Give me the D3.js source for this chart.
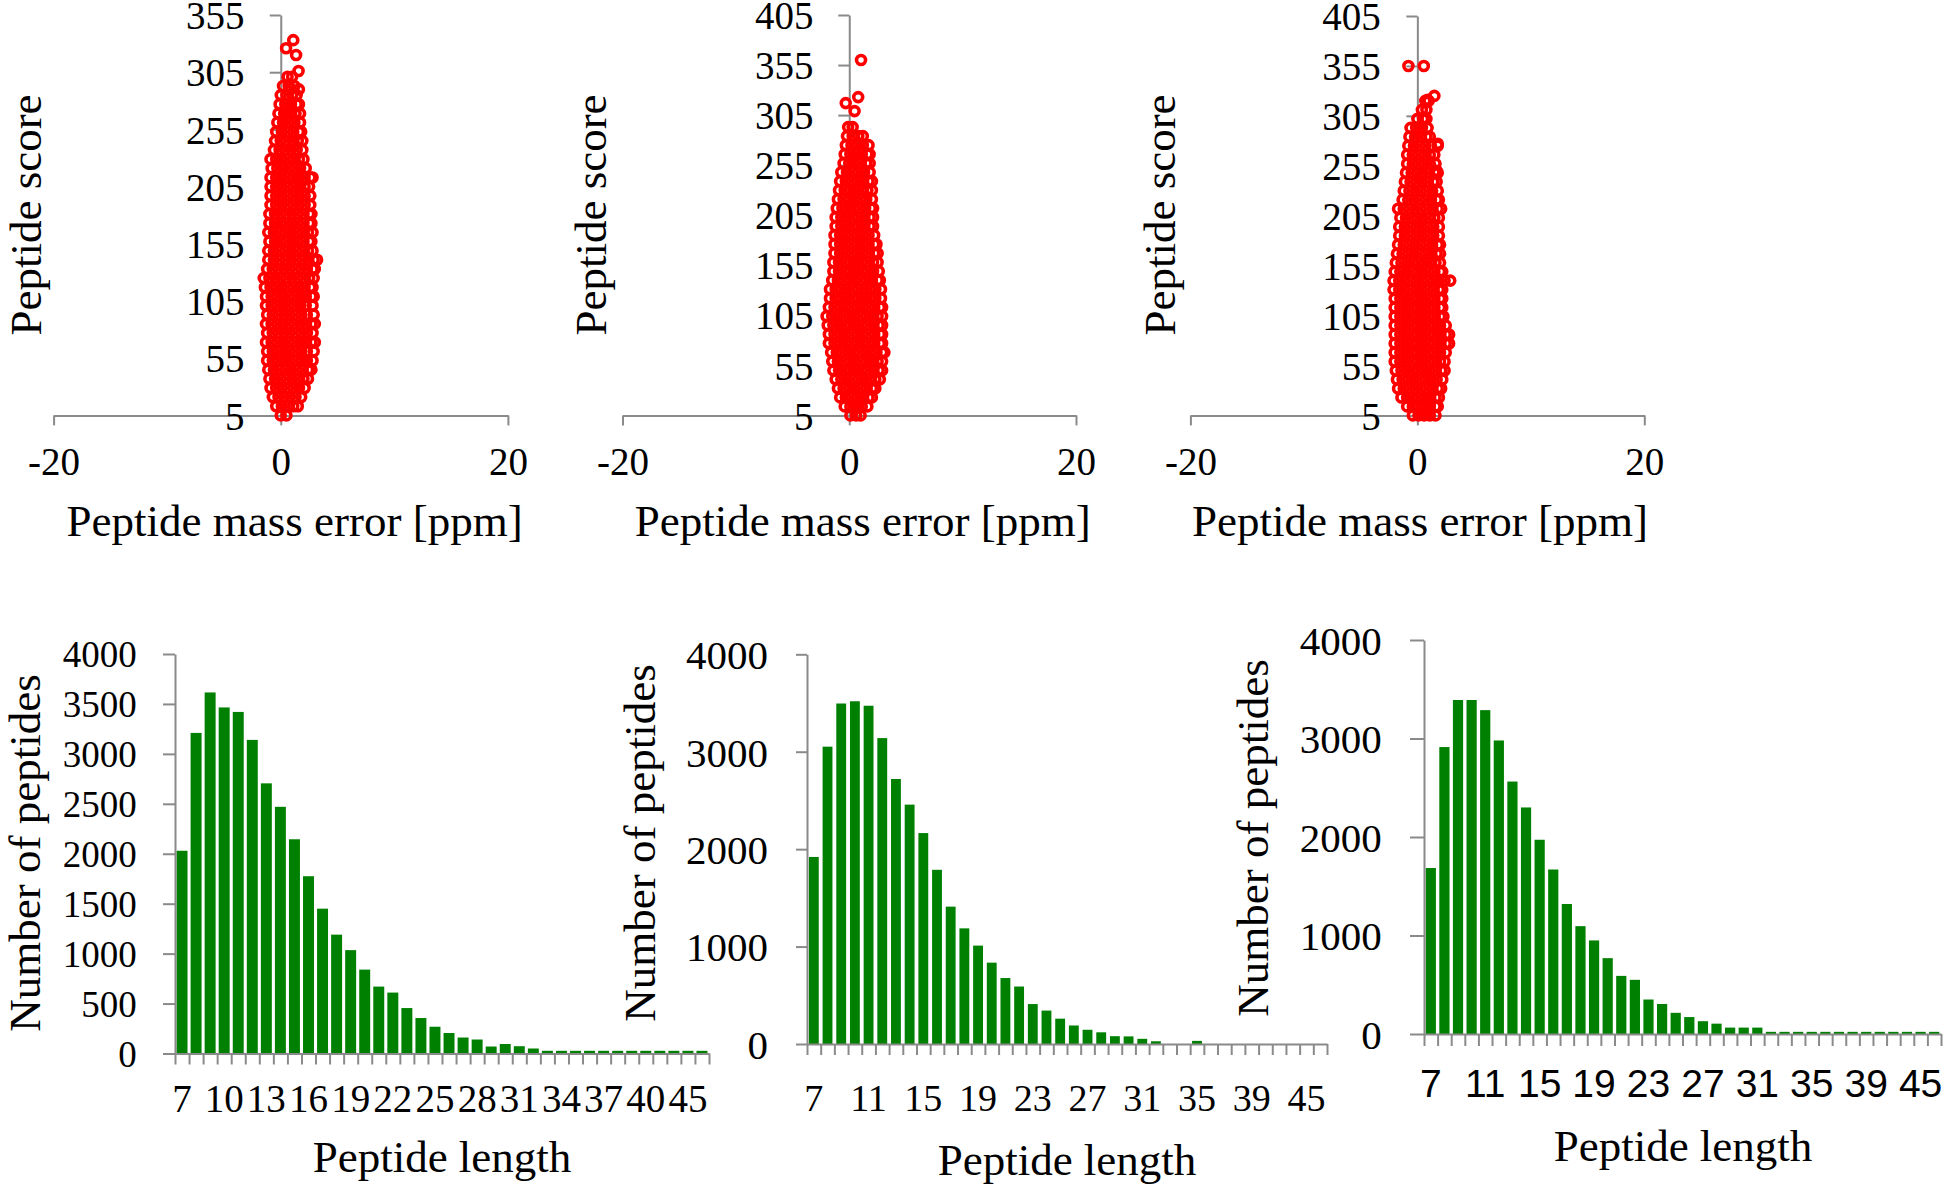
<!DOCTYPE html>
<html><head><meta charset="utf-8">
<script src="https://cdn.jsdelivr.net/npm/d3@7"></script>
<style>body{margin:0;background:#fff}svg{display:block}</style>
</head><body>
<svg id="c" width="1946" height="1189"></svg>
<script>
// ---------------- DATA ----------------
const xTickLabels = [-20, 0, 20];
const yTicksScore1 = [5, 55, 105, 155, 205, 255, 305, 355];
const yTicksScore2 = [5, 55, 105, 155, 205, 255, 305, 355, 405];

const scatter1Scores = [5,13,21,29,37,45,53,61,69,77,85,93,101,109,117,125,133,141,149,157,165,173,181,189,197,205,213,221,229,237,245,253,261,269,277,285,293,301];
const scatter1Errors = [
[0.0,0.5],
[-0.4,0.1,0.6,1.1,1.5],
[-0.7,-0.2,0.3,0.8,1.3,1.8],
[-0.9,-0.4,0.1,0.6,1.1,1.6,2.1],
[-1.0,-0.5,0.0,0.5,1.0,1.5,2.0,2.4],
[-1.1,-0.6,-0.1,0.4,0.9,1.4,1.9,2.4,2.7],
[-1.2,-0.7,-0.2,0.3,0.8,1.3,1.8,2.3,2.8],
[-1.2,-0.7,-0.2,0.3,0.8,1.3,1.8,2.3,2.9],
[-1.3,-0.8,-0.3,0.2,0.7,1.2,1.7,2.2,2.7,3.0],
[-1.2,-0.7,-0.2,0.3,0.8,1.3,1.8,2.3,2.8],
[-1.3,-0.8,-0.3,0.2,0.7,1.2,1.7,2.2,2.7,3.0],
[-1.2,-0.7,-0.2,0.3,0.8,1.3,1.8,2.3,2.9],
[-1.3,-0.8,-0.3,0.2,0.7,1.2,1.7,2.2,2.8],
[-1.3,-0.8,-0.3,0.2,0.7,1.2,1.7,2.2,2.7,2.9],
[-1.4,-0.9,-0.4,0.1,0.6,1.1,1.6,2.1,2.6,2.8],
[-1.5,-1.0,-0.5,0.0,0.5,1.0,1.5,2.0,2.5,2.9],
[-1.2,-0.7,-0.2,0.3,0.8,1.3,1.8,2.3,2.8,3.0],
[-1.1,-0.6,-0.1,0.4,0.9,1.4,1.9,2.4,2.9,3.2],
[-1.1,-0.6,-0.1,0.4,0.9,1.4,1.9,2.4,2.8],
[-1.0,-0.5,0.0,0.5,1.0,1.5,2.0,2.5,2.7],
[-1.1,-0.6,-0.1,0.4,0.9,1.4,1.9,2.4,2.8],
[-1.0,-0.5,0.0,0.5,1.0,1.5,2.0,2.5,2.7],
[-1.0,-0.5,0.0,0.5,1.0,1.5,2.0,2.5,2.7],
[-0.9,-0.4,0.1,0.6,1.1,1.6,2.1,2.6],
[-0.9,-0.4,0.1,0.6,1.1,1.6,2.1,2.6],
[-0.9,-0.4,0.1,0.6,1.1,1.6,2.1,2.5],
[-0.9,-0.4,0.1,0.6,1.1,1.6,2.1,2.6,2.8],
[-0.8,-0.3,0.2,0.7,1.2,1.7,2.2],
[-0.9,-0.4,0.1,0.6,1.1,1.6,2.0],
[-0.6,-0.1,0.4,0.9,1.4,1.9],
[-0.5,0.0,0.5,1.0,1.5,1.9],
[-0.4,0.1,0.6,1.1,1.6,1.8],
[-0.3,0.2,0.7,1.2,1.7],
[-0.2,0.3,0.8,1.3,1.7],
[-0.1,0.4,0.9,1.4,1.6],
[0.0,0.5,1.0,1.4],
[0.2,0.7,1.2],
[0.6,1.0]
];
const scatter1OutlierErrors = [1.6, 1.57, 1.35, 0.47, 1.1];
const scatter1OutlierScores = [290, 306, 320, 326, 333];

const scatter2Scores = [5,14,23,32,41,50,59,68,77,86,95,104,113,122,131,140,149,158,167,176,185,194,203,212,221,230,239,248,257,266,275,284,293];
const scatter2Errors = [
[0.1,0.6,1.0],
[-0.4,0.1,0.6,1.1,1.6],
[-0.8,-0.3,0.2,0.7,1.2,1.7,2.0],
[-1.0,-0.5,0.0,0.5,1.0,1.5,2.0,2.3],
[-1.2,-0.7,-0.2,0.3,0.8,1.3,1.8,2.3,2.7],
[-1.4,-0.9,-0.4,0.1,0.6,1.1,1.6,2.1,2.6,2.9],
[-1.5,-1.0,-0.5,0.0,0.5,1.0,1.5,2.0,2.5,2.9],
[-1.6,-1.1,-0.6,-0.1,0.4,0.9,1.4,1.9,2.4,2.9,3.1],
[-1.8,-1.3,-0.8,-0.3,0.2,0.7,1.2,1.7,2.2,2.7,2.9],
[-1.8,-1.3,-0.8,-0.3,0.2,0.7,1.2,1.7,2.2,2.7,2.9],
[-1.9,-1.4,-0.9,-0.4,0.1,0.6,1.1,1.6,2.1,2.6,2.9],
[-2.0,-1.5,-1.0,-0.5,0.0,0.5,1.0,1.5,2.0,2.5,2.9],
[-1.8,-1.3,-0.8,-0.3,0.2,0.7,1.2,1.7,2.2,2.7,2.9],
[-1.7,-1.2,-0.7,-0.2,0.3,0.8,1.3,1.8,2.3,2.8],
[-1.7,-1.2,-0.7,-0.2,0.3,0.8,1.3,1.8,2.3,2.8],
[-1.5,-1.0,-0.5,0.0,0.5,1.0,1.5,2.0,2.5,2.7],
[-1.4,-0.9,-0.4,0.1,0.6,1.1,1.6,2.1,2.6],
[-1.4,-0.9,-0.4,0.1,0.6,1.1,1.6,2.1,2.5],
[-1.3,-0.8,-0.3,0.2,0.7,1.2,1.7,2.2,2.5],
[-1.3,-0.8,-0.3,0.2,0.7,1.2,1.7,2.2,2.4],
[-1.3,-0.8,-0.3,0.2,0.7,1.2,1.7,2.2],
[-1.2,-0.7,-0.2,0.3,0.8,1.3,1.8,2.1],
[-1.2,-0.7,-0.2,0.3,0.8,1.3,1.8,2.1],
[-1.1,-0.6,-0.1,0.4,0.9,1.4,1.9,2.1],
[-1.0,-0.5,0.0,0.5,1.0,1.5,2.0],
[-0.9,-0.4,0.1,0.6,1.1,1.6,2.0],
[-0.8,-0.3,0.2,0.7,1.2,1.7,2.0],
[-0.7,-0.2,0.3,0.8,1.3,1.8],
[-0.5,0.0,0.5,1.0,1.5,1.8],
[-0.4,0.1,0.6,1.1,1.6,1.8],
[-0.3,0.2,0.7,1.2,1.7],
[-0.2,0.3,0.8,1.2],
[-0.1,0.3]
];
const scatter2OutlierErrors = [1.04, 0.79, -0.31, 0.47];
const scatter2OutlierScores = [360, 323, 317, 309];

const scatter3Scores = [5,14,23,32,41,50,59,68,77,86,95,104,113,122,131,140,149,158,167,176,185,194,203,212,221,230,239,248,257,266,275,284,293,302,311,320];
const scatter3Errors = [
[-0.4,0.1,0.6,1.1,1.6],
[-0.9,-0.4,0.1,0.6,1.1,1.6,1.8],
[-1.4,-0.9,-0.4,0.1,0.6,1.1,1.6,1.9],
[-1.7,-1.2,-0.7,-0.2,0.3,0.8,1.3,1.8,2.1],
[-1.8,-1.3,-0.8,-0.3,0.2,0.7,1.2,1.7,2.2],
[-1.9,-1.4,-0.9,-0.4,0.1,0.6,1.1,1.6,2.1,2.4],
[-2.0,-1.5,-1.0,-0.5,0.0,0.5,1.0,1.5,2.0,2.4],
[-2.0,-1.5,-1.0,-0.5,0.0,0.5,1.0,1.5,2.0,2.5],
[-2.0,-1.5,-1.0,-0.5,0.0,0.5,1.0,1.5,2.0,2.5,2.8],
[-2.0,-1.5,-1.0,-0.5,0.0,0.5,1.0,1.5,2.0,2.5,2.8],
[-2.0,-1.5,-1.0,-0.5,0.0,0.5,1.0,1.5,2.0,2.5],
[-2.0,-1.5,-1.0,-0.5,0.0,0.5,1.0,1.5,2.0,2.3],
[-2.0,-1.5,-1.0,-0.5,0.0,0.5,1.0,1.5,2.0,2.2],
[-2.0,-1.5,-1.0,-0.5,0.0,0.5,1.0,1.5,2.0,2.2],
[-2.1,-1.6,-1.1,-0.6,-0.1,0.4,0.9,1.4,1.9,2.2],
[-2.1,-1.6,-1.1,-0.6,-0.1,0.4,0.9,1.4,1.9,2.4,2.9],
[-2.0,-1.5,-1.0,-0.5,0.0,0.5,1.0,1.5,2.0,2.2],
[-1.9,-1.4,-0.9,-0.4,0.1,0.6,1.1,1.6,2.0],
[-1.8,-1.3,-0.8,-0.3,0.2,0.7,1.2,1.7,2.0],
[-1.7,-1.2,-0.7,-0.2,0.3,0.8,1.3,1.8,2.0],
[-1.6,-1.1,-0.6,-0.1,0.4,0.9,1.4,1.9],
[-1.6,-1.1,-0.6,-0.1,0.4,0.9,1.4,1.9],
[-1.5,-1.0,-0.5,0.0,0.5,1.0,1.5,1.9],
[-1.7,-1.2,-0.7,-0.2,0.3,0.8,1.3,1.8,2.1],
[-1.3,-0.8,-0.3,0.2,0.7,1.2,1.7,1.9],
[-1.2,-0.7,-0.2,0.3,0.8,1.3,1.8],
[-1.1,-0.6,-0.1,0.4,0.9,1.4,1.7],
[-1.0,-0.5,0.0,0.5,1.0,1.5,1.8],
[-0.9,-0.4,0.1,0.6,1.1,1.6],
[-0.9,-0.4,0.1,0.6,1.1,1.5],
[-0.8,-0.3,0.2,0.7,1.2,1.8],
[-0.7,-0.2,0.3,0.8,1.1],
[-0.6,-0.1,0.4,0.9],
[0.0,0.5,0.8],
[0.4,0.8],
[0.7,1.0]
];
const scatter3OutlierErrors = [-0.79, 0.57, 1.5, 0.9, 1.8, 1.7];
const scatter3OutlierScores = [355, 355, 325, 321, 277, 250];

const peptideLengths = [7,8,9,10,11,12,13,14,15,16,17,18,19,20,21,22,23,24,25,26,27,28,29,30,31,32,33,34,35,36,37,38,39,40,41,43,45,47];
const counts1 = [2030,3210,3615,3465,3420,3140,2705,2470,2145,1775,1450,1190,1035,840,670,610,455,355,268,205,160,140,70,95,73,50,27,27,27,27,27,27,27,27,27,27,27,27];
const counts2 = [1920,3052,3495,3518,3472,3140,2720,2457,2165,1788,1410,1187,1010,835,677,590,410,343,260,190,146,120,80,78,53,28,0,0,32,0,0,0,0,0,0,0,0,0];
const counts3 = [1685,2913,3391,3391,3288,2980,2563,2300,1972,1670,1320,1095,950,770,590,550,350,305,215,172,130,105,65,65,65,22,22,22,22,22,22,22,22,22,22,22,22,22];
const lengthLabels1 = [7,10,13,16,19,22,25,28,31,34,37,40,45];
const lengthLabels2 = [7,11,15,19,23,27,31,35,39,45];
const lengthLabels3 = [7,11,15,19,23,27,31,35,39,45];
const countTicks1 = [0,500,1000,1500,2000,2500,3000,3500,4000];
const countTicks2 = [0,1000,2000,3000,4000];

// ---------------- DRAWING ----------------
const svg = d3.select("#c");
const SERIF = '"Liberation Serif","Times New Roman",serif';
const SANS = '"Liberation Sans",Arial,sans-serif';
const AXIS = "#8a8a8a";

function styleAxis(g) {
  g.select(".domain").attr("stroke", AXIS).attr("stroke-width", 2);
  g.selectAll(".tick line").attr("stroke", AXIS).attr("stroke-width", 2);
}

function drawScatter(cfg, scores, errors, oErr, oScore, yTicks) {
  const g = svg.append("g");
  const x = d3.scaleLinear().domain([-20, 20]).range([cfg.x0, cfg.x1]);
  const y = d3.scaleLinear().domain([yTicks[0], yTicks[yTicks.length - 1]]).range([cfg.yBot, cfg.yTop]);

  const xa = g.append("g").attr("transform", `translate(0,${cfg.yBot})`)
    .call(d3.axisBottom(x).tickValues(xTickLabels).tickSizeInner(10).tickSizeOuter(0).tickFormat(d => String(d)));
  styleAxis(xa);
  xa.selectAll("text").attr("y", 475 - cfg.yBot).attr("dy", null)
    .attr("font-family", SERIF).attr("font-size", 39).attr("fill", "#000");

  const ya = g.append("g").attr("transform", `translate(${x(0)},0)`)
    .call(d3.axisLeft(y).tickValues(yTicks).tickSizeInner(11).tickSizeOuter(0).tickFormat(d => String(d)));
  styleAxis(ya);
  ya.selectAll("text").attr("x", cfg.labelRight - x(0)).attr("dy", "0.35em")
    .attr("font-family", SERIF).attr("font-size", 39).attr("fill", "#000");

  const pts = [];
  scores.forEach((s, i) => errors[i].forEach(e => pts.push([e, s])));
  oErr.forEach((e, i) => pts.push([e, oScore[i]]));
  g.append("g").selectAll("circle").data(pts).join("circle")
    .attr("cx", d => x(d[0])).attr("cy", d => y(d[1])).attr("r", 4.5)
    .attr("fill", "none").attr("stroke", "#ff0000").attr("stroke-width", 3.6);

  g.append("text").attr("x", cfg.xTitleX).attr("y", 536).attr("text-anchor", "middle")
    .attr("font-family", SERIF).attr("font-size", 45).text("Peptide mass error [ppm]");
  g.append("text").attr("transform", `translate(${cfg.yTitleX},215) rotate(-90)`).attr("text-anchor", "middle")
    .attr("font-family", SERIF).attr("font-size", 45).text("Peptide score");
}

function drawBars(cfg, lengths, counts, labels, yTicks) {
  const g = svg.append("g");
  const x = d3.scaleBand().domain(lengths).range([cfg.x0, cfg.x1]).paddingInner(cfg.pad).paddingOuter(cfg.pad / 2);
  const y = d3.scaleLinear().domain([0, 4000]).range([cfg.y0, cfg.yTop]);

  g.append("g").selectAll("rect").data(lengths.map((l, i) => [l, counts[i]])).join("rect")
    .attr("x", d => x(d[0])).attr("width", x.bandwidth())
    .attr("y", d => y(d[1])).attr("height", d => cfg.y0 - y(d[1]))
    .attr("fill", "#008000");

  const idx = d3.scaleLinear().domain([0, lengths.length]).range([cfg.x0, cfg.x1]);
  const xa = g.append("g").attr("transform", `translate(0,${cfg.y0})`)
    .call(d3.axisBottom(idx).tickValues(d3.range(lengths.length + 1)).tickSizeInner(cfg.tickLen).tickSizeOuter(0).tickFormat(""));
  styleAxis(xa);

  g.append("g").selectAll("text").data(labels).join("text")
    .attr("x", d => x(d) + x.bandwidth() / 2).attr("y", cfg.xLabelY).attr("text-anchor", "middle")
    .attr("font-family", cfg.xFamily).attr("font-size", cfg.xFont).text(d => d);

  const ya = g.append("g").attr("transform", `translate(${cfg.x0},0)`)
    .call(d3.axisLeft(y).tickValues(yTicks).tickSizeInner(cfg.yTickLen).tickSizeOuter(0).tickFormat(d => String(d)));
  styleAxis(ya);
  ya.selectAll("text").attr("x", cfg.labelRight - cfg.x0).attr("dy", "0.35em")
    .attr("font-family", SERIF).attr("font-size", cfg.yFont).attr("fill", "#000");

  g.append("text").attr("x", cfg.titleX).attr("y", cfg.titleY).attr("text-anchor", "middle")
    .attr("font-family", SERIF).attr("font-size", 45).text("Peptide length");
  g.append("text").attr("transform", `translate(${cfg.yTitleX},${cfg.yTitleY}) rotate(-90)`).attr("text-anchor", "middle")
    .attr("font-family", SERIF).attr("font-size", 45).text("Number of peptides");
}

drawScatter({x0: 53.6, x1: 507.9, yTop: 15, yBot: 415.4, labelRight: 244.6, xTitleX: 294.6, yTitleX: 41},
  scatter1Scores, scatter1Errors, scatter1OutlierErrors, scatter1OutlierScores, yTicksScore1);
drawScatter({x0: 622.5, x1: 1076, yTop: 15, yBot: 415.4, labelRight: 813.6, xTitleX: 862.7, yTitleX: 605.6},
  scatter2Scores, scatter2Errors, scatter2OutlierErrors, scatter2OutlierScores, yTicksScore2);
drawScatter({x0: 1190.4, x1: 1644.3, yTop: 16, yBot: 415.4, labelRight: 1380.7, xTitleX: 1420, yTitleX: 1174.6},
  scatter3Scores, scatter3Errors, scatter3OutlierErrors, scatter3OutlierScores, yTicksScore2);

drawBars({x0: 175, x1: 709, y0: 1053.5, yTop: 654, pad: 0.22, tickLen: 11, yTickLen: 12, labelRight: 136.7,
  yFont: 37, xFont: 39, xFamily: SERIF, xLabelY: 1112, titleX: 442, titleY: 1172, yTitleX: 40, yTitleY: 853},
  peptideLengths, counts1, lengthLabels1, countTicks1);
drawBars({x0: 807, x1: 1327, y0: 1044, yTop: 654.3, pad: 0.28, tickLen: 11, yTickLen: 11, labelRight: 768,
  yFont: 41, xFont: 38, xFamily: SERIF, xLabelY: 1111, titleX: 1067, titleY: 1175, yTitleX: 655, yTitleY: 843},
  peptideLengths, counts2, lengthLabels2, countTicks2);
drawBars({x0: 1424, x1: 1941, y0: 1034, yTop: 640, pad: 0.25, tickLen: 12, yTickLen: 14, labelRight: 1381.7,
  yFont: 41, xFont: 39, xFamily: SANS, xLabelY: 1097, titleX: 1683, titleY: 1161, yTitleX: 1268, yTitleY: 838},
  peptideLengths, counts3, lengthLabels3, countTicks2);
</script>
</body></html>
